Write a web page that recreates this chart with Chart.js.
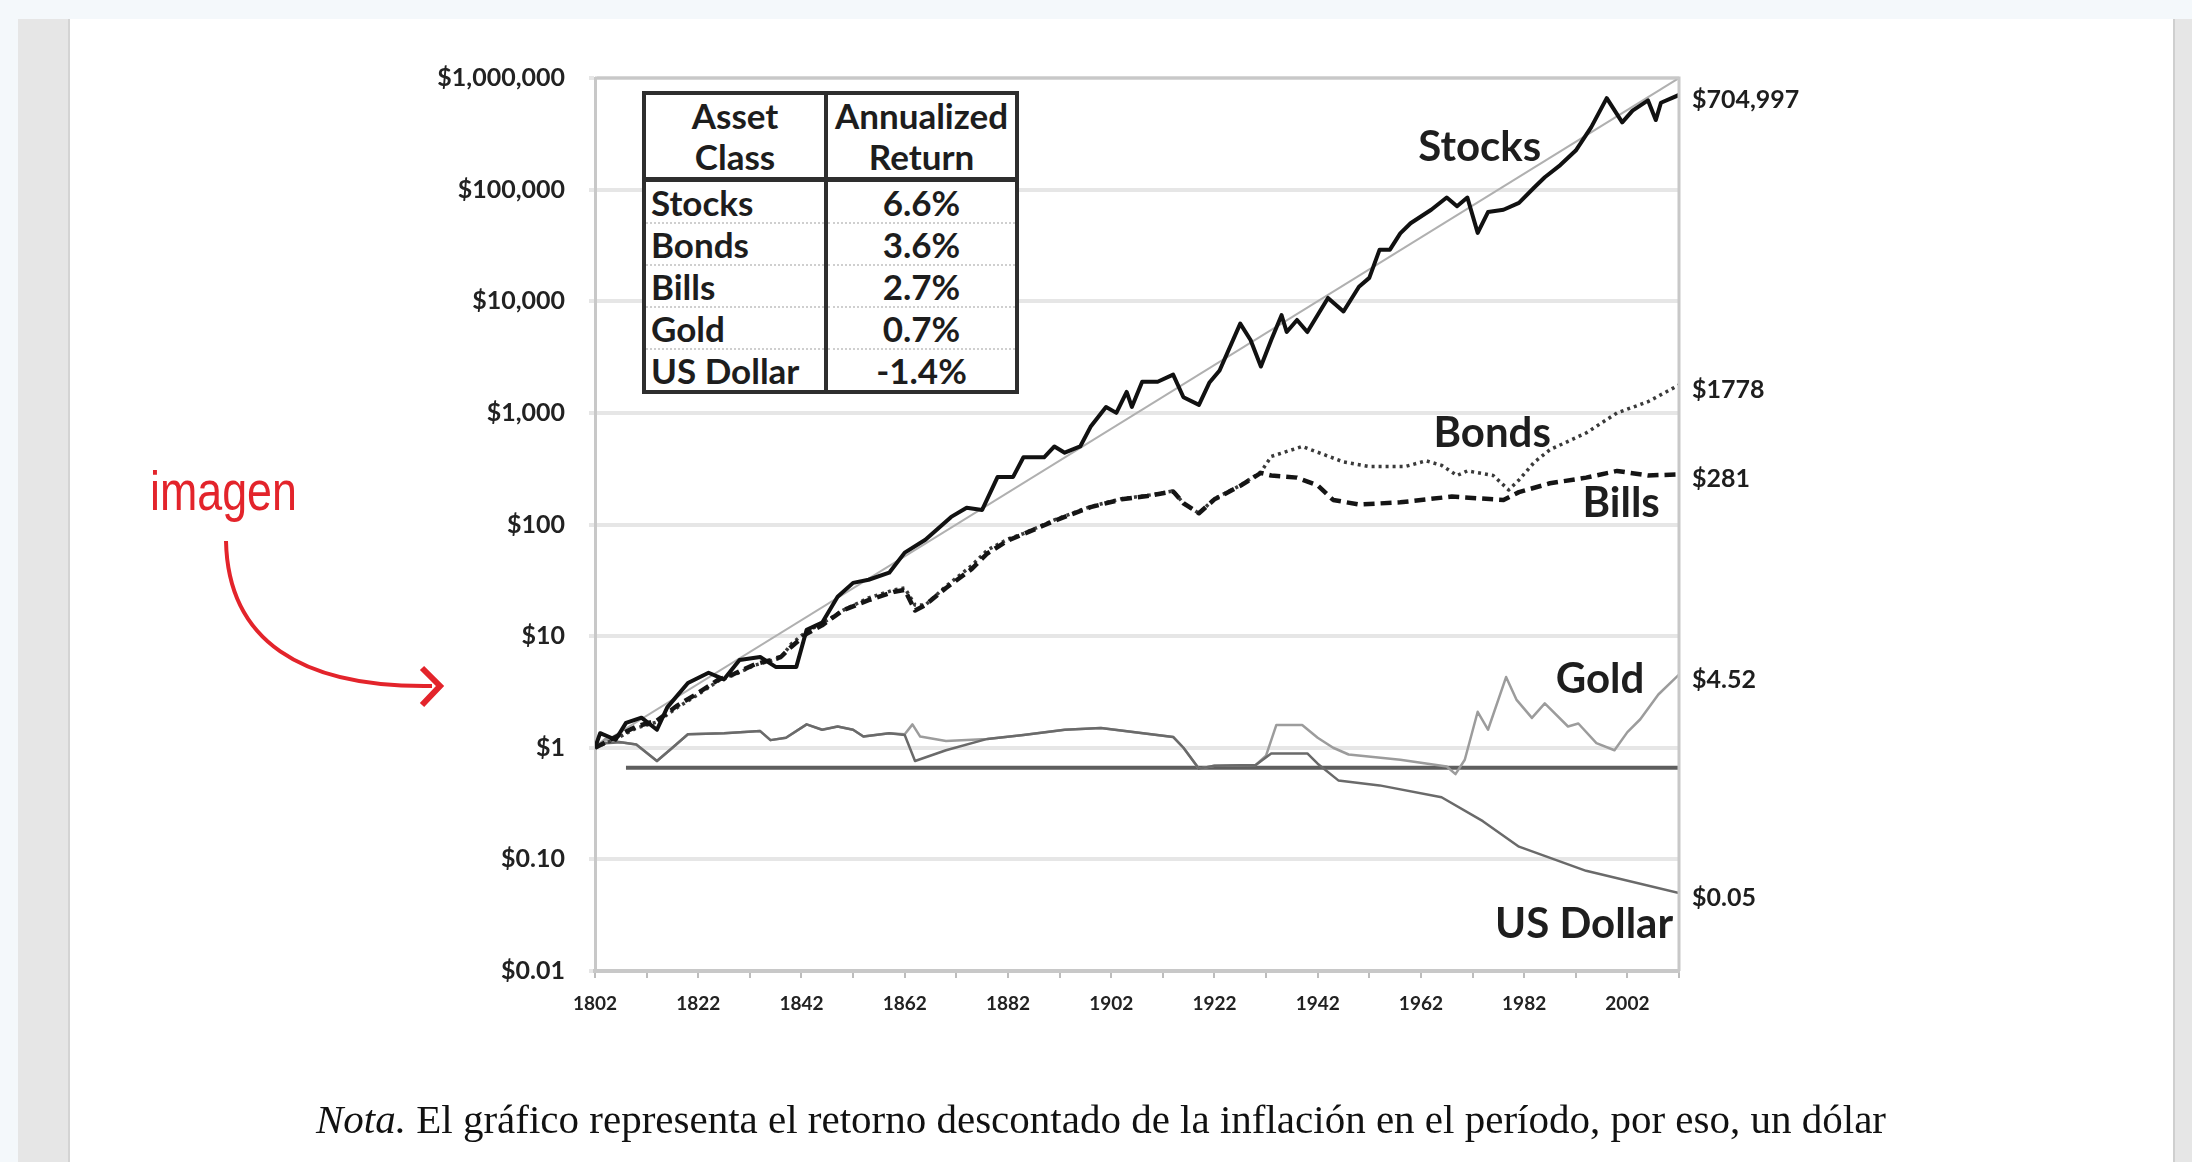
<!DOCTYPE html>
<html>
<head>
<meta charset="utf-8">
<script src="https://cdn.jsdelivr.net/npm/chart.js@4.4.1/dist/chart.umd.min.js"></script>
<style>
    html, body { margin: 0; padding: 0; }
    body { width: 2192px; height: 1162px; position: relative; overflow: hidden; background: #f4f8fb; }
    .pagina { position: absolute; left: 70px; top: 19px; width: 2103px; height: 1143px; background: #fff; }
    .margem-esq { position: absolute; left: 18px; top: 19px; width: 50px; height: 1143px; background: #e6e6e6; border-right: 2px solid #d4d4d4; }
    .margem-dir { position: absolute; left: 2173px; top: 19px; width: 19px; height: 1143px; background: #e6e6e6; border-left: 2px solid #cfcfcf; }
    #grafico { position: absolute; left: 0; top: 0; }
    .tabela { position: absolute; left: 642px; top: 91px; width: 377px; height: 303px; box-sizing: border-box;
              border: 4px solid #2e2e2e; border-collapse: collapse; background: #fff;
              font-family: Lato, "Open Sans", sans-serif; font-weight: 700; color: #1d1d1d; font-size: 35px; }
    .tabela td, .tabela th { padding: 0; line-height: 40px; }
    .tabela th { font-weight: 700; text-align: center; line-height: 41px; border-bottom: 5px solid #2e2e2e; }
    .tabela td:first-child, .tabela th:first-child { width: 173px; border-right: 4px solid #2e2e2e; }
    .tabela td:first-child { text-align: left; padding-left: 5px; }
    .tabela td:last-child { text-align: center; }
    .tabela tbody tr + tr td { border-top: 2px dotted #cfcfcf; }
    .imagen { position: absolute; left: 150px; top: 458px; color: #e3242b; font-size: 56px;
              font-family: "Liberation Sans", Arial, sans-serif; transform: scaleX(0.8); transform-origin: left top; }
    #flecha { position: absolute; left: 0; top: 0; }
    .nota { position: absolute; left: 316px; top: 1095px; font-family: "Liberation Serif", "Times New Roman", serif;
            font-size: 41px; color: #111; white-space: nowrap; }
</style>
</head>
<body>
<div class="pagina"></div>
<div class="margem-esq"></div>
<div class="margem-dir"></div>
<canvas id="grafico" width="2192" height="1162"></canvas>
<table class="tabela" id="tabela"></table>
<div class="imagen">imagen</div>
<svg id="flecha" width="500" height="760">
    <path d="M226 541 C 228 640, 300 688, 432 686" fill="none" stroke="#e3242b" stroke-width="4"/>
    <path d="M422 668 L 440 686 L 422 705" fill="none" stroke="#e3242b" stroke-width="6"/>
</svg>
<div class="nota"><i>Nota.</i> El gráfico representa el retorno descontado de la inflación en el período, por eso, un dólar</div>

<script>
// ==========================================
// Retornos reales 1802-2012 (escala log)
// ==========================================

const stockYears = [1802, 1803, 1806, 1808, 1811, 1814, 1816, 1820, 1824, 1827, 1830, 1834, 1837, 1841, 1843, 1846, 1849, 1852, 1855, 1859, 1862, 1866, 1871, 1874, 1877, 1880, 1883, 1885, 1889, 1891, 1893, 1896, 1898, 1901, 1903, 1905, 1906, 1908, 1911, 1914, 1916, 1919, 1921, 1923, 1927, 1929, 1931, 1933, 1935, 1936, 1938, 1940, 1944, 1947, 1950, 1952, 1954, 1956, 1958, 1960, 1964, 1967, 1969, 1971, 1973, 1975, 1978, 1981, 1984, 1986, 1989, 1992, 1995, 1998, 2001, 2003, 2006, 2007.5, 2008.5, 2012];
const stockValues = [1.0, 1.35, 1.18, 1.67, 1.86, 1.45, 2.3, 3.8, 4.7, 4.1, 6.1, 6.5, 5.3, 5.3, 11.4, 13.2, 22.5, 30, 32, 37, 56, 73, 117, 141, 135, 267, 267, 400, 400, 500, 440, 500, 750, 1130, 1000, 1540, 1130, 1900, 1900, 2200, 1380, 1180, 1860, 2400, 6300, 4500, 2600, 4500, 7500, 5300, 6800, 5300, 10700, 8100, 13500, 16200, 29000, 29000, 40500, 50000, 66000, 85000, 71000, 85000, 41000, 63000, 66000, 76000, 105000, 129000, 166000, 224000, 363000, 660000, 400000, 510000, 630000, 420000, 600000, 704997];

const bondYears = [1802, 1806, 1810, 1814, 1818, 1822, 1826, 1829, 1833, 1836, 1838, 1840, 1843, 1846, 1850, 1855, 1860, 1862, 1864, 1866, 1870, 1875, 1878, 1882, 1885, 1891, 1898, 1904, 1909, 1914, 1916, 1919, 1922, 1927, 1931, 1933, 1939, 1943, 1947, 1952, 1959, 1963, 1966, 1969, 1971, 1976, 1979, 1981, 1984, 1987, 1994, 2000, 2006, 2012];
const bondValues = [1.0, 1.2, 1.5, 1.7, 2.3, 3.0, 4.0, 4.5, 5.5, 6.0, 6.4, 8.5, 11, 13, 17, 22, 26, 27, 19, 19, 28, 43, 59, 74, 83, 110, 145, 170, 182, 200, 155, 126, 170, 224, 295, 407, 500, 427, 363, 331, 331, 372, 339, 275, 302, 275, 204, 251, 363, 468, 660, 1000, 1260, 1778];

const billYears = [1802, 1806, 1810, 1814, 1818, 1822, 1826, 1829, 1833, 1836, 1838, 1840, 1843, 1846, 1850, 1855, 1860, 1862, 1864, 1866, 1870, 1875, 1878, 1882, 1885, 1891, 1898, 1904, 1909, 1914, 1916, 1919, 1922, 1927, 1931, 1933, 1938, 1942, 1945, 1950, 1958, 1968, 1978, 1981, 1987, 1994, 2000, 2006, 2012];
const billValues = [1.0, 1.25, 1.55, 1.75, 2.4, 3.1, 4.1, 4.6, 5.6, 6.1, 6.5, 8.0, 10.5, 12.5, 17, 21, 25, 26, 17, 19, 27, 40, 55, 72, 82, 108, 143, 168, 180, 198, 155, 126, 168, 222, 290, 275, 263, 224, 166, 151, 158, 178, 166, 195, 234, 263, 302, 275, 281];

const goldYears = [1802, 1804, 1807, 1810, 1814, 1817, 1820, 1827, 1834, 1836, 1839, 1843, 1846, 1849, 1852, 1854, 1859, 1862, 1863.5, 1865, 1870, 1878, 1885, 1893, 1900, 1914, 1916, 1919, 1922, 1930, 1932, 1934, 1939, 1942, 1945, 1948, 1958, 1967, 1968.7, 1970.5, 1973, 1975, 1978.5, 1980.5, 1983.5, 1986, 1990.5, 1992.5, 1996, 1999.5, 2002, 2004.5, 2008, 2012];
const goldValues = [1.0, 1.2, 1.12, 1.07, 0.76, 1.0, 1.32, 1.35, 1.41, 1.17, 1.23, 1.62, 1.45, 1.55, 1.45, 1.26, 1.35, 1.32, 1.62, 1.26, 1.15, 1.2, 1.3, 1.45, 1.5, 1.25, 1.0, 0.65, 0.69, 0.70, 0.85, 1.6, 1.6, 1.23, 1.0, 0.87, 0.78, 0.68, 0.58, 0.78, 2.1, 1.45, 4.3, 2.7, 1.85, 2.5, 1.55, 1.65, 1.1, 0.95, 1.38, 1.8, 3.0, 4.52];

const dollarYears = [1802, 1804, 1807, 1810, 1814, 1817, 1820, 1827, 1834, 1836, 1839, 1843, 1846, 1849, 1852, 1854, 1859, 1862, 1864, 1870, 1878, 1885, 1893, 1900, 1914, 1916, 1919, 1922, 1930, 1933, 1940, 1942, 1946, 1954, 1966, 1974, 1981, 1994, 2012];
const dollarValues = [1.0, 1.1, 1.12, 1.07, 0.76, 1.0, 1.32, 1.35, 1.41, 1.17, 1.23, 1.62, 1.45, 1.55, 1.45, 1.26, 1.35, 1.30, 0.76, 0.95, 1.2, 1.3, 1.45, 1.5, 1.25, 1.0, 0.65, 0.69, 0.70, 0.89, 0.89, 0.72, 0.51, 0.46, 0.36, 0.22, 0.13, 0.079, 0.05];

const trendYears = [1802, 2012];
const trendValues = [1, 1000000];
const baseYears = [1808, 2012];
const baseValues = [0.662, 0.662];

const xTickYears = [1802, 1812, 1822, 1832, 1842, 1852, 1862, 1872, 1882, 1892, 1902, 1912, 1922, 1932, 1942, 1952, 1962, 1972, 1982, 1992, 2002, 2012];
const xLabelYears = [1802, 1822, 1842, 1862, 1882, 1902, 1922, 1942, 1962, 1982, 2002];
const yTickValues = [0.01, 0.1, 1, 10, 100, 1000, 10000, 100000, 1000000];
const yTickLabels = ["$0.01", "$0.10", "$1", "$10", "$100", "$1,000", "$10,000", "$100,000", "$1,000,000"];

const tagNames = ["Stocks", "Bonds", "Bills", "Gold", "US Dollar"];
const tagYears = [1973.4, 1975.8, 2000.8, 1996.7, 1993.6];
const tagValues = [238000, 650, 153, 4.07, 0.026];

const tableClasses = ["Stocks", "Bonds", "Bills", "Gold", "US Dollar"];
const tableReturns = ["6.6%", "3.6%", "2.7%", "0.7%", "-1.4%"];

// Tabela
document.getElementById("tabela").innerHTML = `
    <thead><tr><th>Asset<br>Class</th><th>Annualized<br>Return</th></tr></thead>
    <tbody>
        ${tableClasses.map((c, i) => `<tr><td>${c}</td><td>${tableReturns[i]}</td></tr>`).join("")}
    </tbody>
`;

const pontos = (xs, ys) => xs.map((x, i) => ({ x: x, y: ys[i] }));

// Rótulos: nomes das séries, valores finais e moldura superior/direita
const rotulos = {
    id: "rotulos",
    afterDatasetsDraw(chart) {
        const { ctx, chartArea, scales } = chart;
        ctx.save();

        ctx.strokeStyle = "#c8c8c8";
        ctx.lineWidth = 3;
        ctx.beginPath();
        ctx.moveTo(chartArea.left, chartArea.top);
        ctx.lineTo(chartArea.right, chartArea.top);
        ctx.lineTo(chartArea.right, chartArea.bottom);
        ctx.stroke();

        ctx.fillStyle = "#1e1e1e";
        ctx.font = "700 42px Lato";
        ctx.textAlign = "center";
        ctx.textBaseline = "middle";
        tagNames.forEach((t, i) => {
            ctx.fillText(t, scales.x.getPixelForValue(tagYears[i]), scales.y.getPixelForValue(tagValues[i]));
        });

        ctx.font = "700 25px Lato";
        ctx.textAlign = "left";
        chart.data.datasets.forEach(ds => {
            if (!ds.fim) return;
            const p = ds.data[ds.data.length - 1];
            ctx.fillText(ds.fim, scales.x.getPixelForValue(p.x) + 13, scales.y.getPixelForValue(p.y) + 5);
        });
        ctx.restore();
    }
};

new Chart(document.getElementById("grafico"), {
    type: "line",
    data: {
        datasets: [
            { label: "Stocks", data: pontos(stockYears, stockValues), borderColor: "#111", borderWidth: 4, fim: "$704,997" },
            { label: "Bills", data: pontos(billYears, billValues), borderColor: "#151515", borderWidth: 4.5, borderDash: [11, 6], fim: "$281" },
            { label: "Bonds", data: pontos(bondYears, bondValues), borderColor: "#3a3a3a", borderWidth: 3.5, borderDash: [3, 4], fim: "$1778" },
            { label: "US Dollar", data: pontos(dollarYears, dollarValues), borderColor: "#6a6a6a", borderWidth: 2.5, fim: "$0.05" },
            { label: "Gold", data: pontos(goldYears, goldValues), borderColor: "#9c9c9c", borderWidth: 2.5, fim: "$4.52" },
            { label: "Base", data: pontos(baseYears, baseValues), borderColor: "#5e5e5e", borderWidth: 4 },
            { label: "Trend", data: pontos(trendYears, trendValues), borderColor: "#b0b0b0", borderWidth: 2 }
        ]
    },
    options: {
        responsive: false, animation: false,
        layout: { padding: { left: 0, top: 78, right: 513, bottom: 0 } },
        elements: { point: { radius: 0 }, line: { tension: 0, borderJoinStyle: "round", borderCapStyle: "butt" } },
        plugins: { legend: { display: false }, tooltip: { enabled: false } },
        scales: {
            x: {
                type: "linear", min: 1802, max: 2012,
                afterFit: s => { s.height = 191; },
                afterBuildTicks: s => { s.ticks = xTickYears.map(v => ({ value: v })); },
                grid: { drawOnChartArea: false, tickLength: 7, color: "#bdbdbd", lineWidth: 2 },
                border: { color: "#c8c8c8", width: 4 },
                ticks: {
                    autoSkip: false, maxRotation: 0, padding: 14, color: "#222",
                    font: { family: "Lato", weight: "700", size: 19 },
                    callback: v => xLabelYears.includes(v) ? String(v) : ""
                }
            },
            y: {
                type: "logarithmic", min: 0.01, max: 1000000,
                afterFit: s => { s.width = 595; },
                afterBuildTicks: s => { s.ticks = yTickValues.map(v => ({ value: v })); },
                grid: { color: "#e6e6e6", lineWidth: 4, tickLength: 6 },
                border: { color: "#c8c8c8", width: 3 },
                ticks: {
                    padding: 24, color: "#222",
                    font: { family: "Lato", weight: "700", size: 25 },
                    callback: v => yTickLabels[yTickValues.indexOf(v)]
                }
            }
        }
    },
    plugins: [rotulos]
});
</script>
</body>
</html>
